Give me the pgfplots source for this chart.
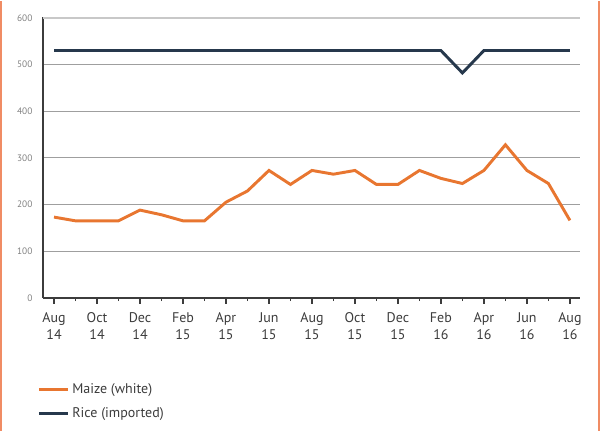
\documentclass[border=0pt]{standalone}
\usepackage{fontspec}
\setmainfont{PT Sans}
\usepackage{pgfplots}
\pgfplotsset{compat=1.18}
\definecolor{maize}{RGB}{232,118,48}
\definecolor{rice}{RGB}{38,56,76}
\definecolor{frame}{RGB}{240,140,100}
\definecolor{txt}{RGB}{60,60,60}
\definecolor{topgrid}{RGB}{200,200,200}
\begin{document}
\begin{tikzpicture}
\path (0,0) rectangle (450.75pt,322.5pt);
\draw[frame, line width=1.3pt] (0.6pt,0) -- (0.6pt,322.5pt);
\draw[frame, line width=1.3pt] (449.4pt,0) -- (449.4pt,322.5pt);
\begin{axis}[
    at={(32.25pt,99.75pt)}, anchor=south west,
    scale only axis, width=402.75pt, height=210.7pt,
    xmin=-0.51, xmax=24.47, ymin=0, ymax=602,
    axis x line=bottom, axis y line=left,
    axis line style={-, draw=txt, line width=1.2pt},
    xtick={0,2,...,24}, minor xtick={1,3,...,23},
    xticklabels={Aug\\14,Oct\\14,Dec\\14,Feb\\15,Apr\\15,Jun\\15,Aug\\15,Oct\\15,Dec\\15,Feb\\16,Apr\\16,Jun\\16,Aug\\16},
    xticklabel style={align=center, font=\fontsize{10.5}{13}\selectfont, text=txt, yshift=-3pt},
    tick align=outside,
    x tick style={draw=txt, line width=1pt},
    major tick length=4.5pt, minor tick length=2.5pt,
    minor x tick style={draw=txt, line width=0.9pt},
    ytick={0,100,...,500},
    extra y ticks={600},
    extra y tick style={ymajorgrids=false},
    y tick style={draw=none},
    yticklabel style={font=\fontsize{7}{8}\selectfont, text=gray},
    /pgf/number format/assume math mode=true,
    ymajorgrids, major grid style={draw=gray!75, line width=0.9pt},
    clip=false,
    legend style={at={(-0.011,-0.295)}, anchor=north west, draw=none, fill=none,
        inner sep=0pt, font=\fontsize{10.5}{12}\selectfont, text=txt,
        cells={anchor=west}, row sep=5pt},
    legend image code/.code={\draw[#1] (0pt,0pt) -- (22pt,0pt);},
]
\addplot[maize, line width=2.2pt] coordinates {
(0,173)(1,165)(2,165)(3,165)(4,188)(5,178)(6,165)(7,165)(8,205)(9,229)
(10,273)(11,243)(12,273)(13,265)(14,273)(15,243)(16,243)(17,273)(18,256)
(19,245)(20,273)(21,328)(22,273)(23,245)(24,166)
};
\addlegendentry{Maize (white)}
\addplot[rice, line width=2.2pt] coordinates {
(0,530)(1,530)(2,530)(3,530)(4,530)(5,530)(6,530)(7,530)(8,530)(9,530)
(10,530)(11,530)(12,530)(13,530)(14,530)(15,530)(16,530)(17,530)(18,530)
(19,482)(20,530)(21,530)(22,530)(23,530)(24,530)
};
\addlegendentry{Rice (imported)}
\draw[topgrid, line width=1.2pt] (axis cs:-0.51,600) -- (axis cs:24.47,600);
\end{axis}
\end{tikzpicture}
\end{document}
